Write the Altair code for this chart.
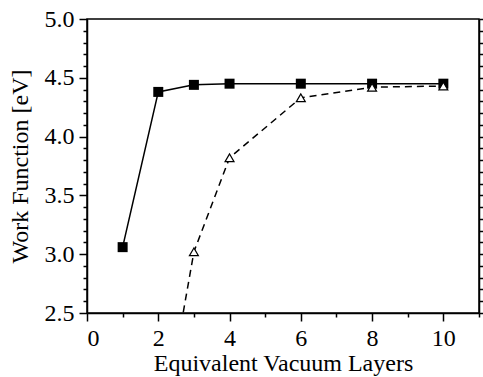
import altair as alt
import pandas as pd

# Data
layers_sq = [1, 2, 3, 4, 6, 8, 10]
wf_sq = [3.06, 4.38, 4.44, 4.45, 4.45, 4.45, 4.45]
layers_tri = [2, 3, 4, 6, 8, 10]
wf_tri = [1.30, 3.02, 3.82, 4.33, 4.42, 4.43]

x_ticks = [0, 1, 2, 3, 4, 5, 6, 7, 8, 9, 10, 11]
y_ticks = [2.5, 2.6, 2.7, 2.8, 2.9, 3.0, 3.1, 3.2, 3.3, 3.4, 3.5, 3.6, 3.7,
           3.8, 3.9, 4.0, 4.1, 4.2, 4.3, 4.4, 4.5, 4.6, 4.7, 4.8, 4.9, 5.0]

df_sq = pd.DataFrame({"x": layers_sq, "y": wf_sq})
df_tri = pd.DataFrame({"x": layers_tri, "y": wf_tri})

FONT = "Liberation Serif"
xs = alt.Scale(domain=[0, 11], nice=False, zero=False)
ys = alt.Scale(domain=[2.5, 5.0], nice=False, zero=False)

major_x = "datum.value % 2 === 0"
major_y = "abs(datum.value * 2 - round(datum.value * 2)) < 0.001"

x_axis = alt.Axis(
    values=x_ticks, title="Equivalent Vacuum Layers", grid=False, orient="bottom",
    tickSize={"condition": {"test": major_x, "value": 8}, "value": 4},
    labelExpr=f"{major_x} ? datum.label : ''",
    labelPadding=5, titlePadding=1,
)
y_axis = alt.Axis(
    values=y_ticks, title="Work Function [eV]", grid=False, orient="left",
    tickSize={"condition": {"test": major_y, "value": 8}, "value": 4},
    labelExpr=f"{major_y} ? format(datum.value, '.1f') : ''",
    labelPadding=5, titlePadding=12,
)
y_axis_right = alt.Axis(
    values=y_ticks, title=None, grid=False, orient="right", labels=False,
    tickSize={"condition": {"test": major_y, "value": 8}, "value": 4},
)

line_sq = alt.Chart(df_sq).mark_line(color="black", strokeWidth=1.5, clip=True).encode(
    x=alt.X("x:Q", scale=xs, axis=x_axis),
    y=alt.Y("y:Q", scale=ys, axis=y_axis),
)
right_axis = alt.Chart(df_sq).mark_point(opacity=0).encode(
    x=alt.X("x:Q", scale=xs, axis=None),
    y=alt.Y("y:Q", scale=ys, axis=y_axis_right),
)
line_tri = alt.Chart(df_tri).mark_line(color="black", strokeWidth=1.5, strokeDash=[7, 5], clip=True).encode(
    x=alt.X("x:Q", scale=xs, axis=None),
    y=alt.Y("y:Q", scale=ys, axis=None),
)
pts_sq = alt.Chart(df_sq).mark_point(shape="square", filled=True, size=100, color="black", opacity=1, clip=True).encode(
    x=alt.X("x:Q", scale=xs, axis=None),
    y=alt.Y("y:Q", scale=ys, axis=None),
)
pts_tri = alt.Chart(df_tri).mark_point(shape="triangle-up", filled=True, fill="white", stroke="black",
                                       strokeWidth=1.2, size=80, opacity=1, clip=True).encode(
    x=alt.X("x:Q", scale=xs, axis=None),
    y=alt.Y("y:Q", scale=ys, axis=None),
)

chart = alt.layer(line_sq, right_axis, line_tri, pts_sq, pts_tri).resolve_axis(
    x="independent", y="independent"
).properties(
    width=392, height=294,
    autosize=alt.AutoSizeParams(type="none"),
    padding={"left": 87, "top": 19, "right": 4, "bottom": 64},
    background="white",
).configure_view(
    stroke="black", strokeWidth=1.5
).configure_axis(
    domainColor="black", domainWidth=1.5, tickColor="black", tickWidth=1.5,
    labelFont=FONT, titleFont=FONT, labelFontSize=24, titleFontSize=24,
    labelColor="black", titleColor="black", titleFontWeight="normal",
)

chart.save("out.html", embed_options={"renderer": "svg", "actions": False})
